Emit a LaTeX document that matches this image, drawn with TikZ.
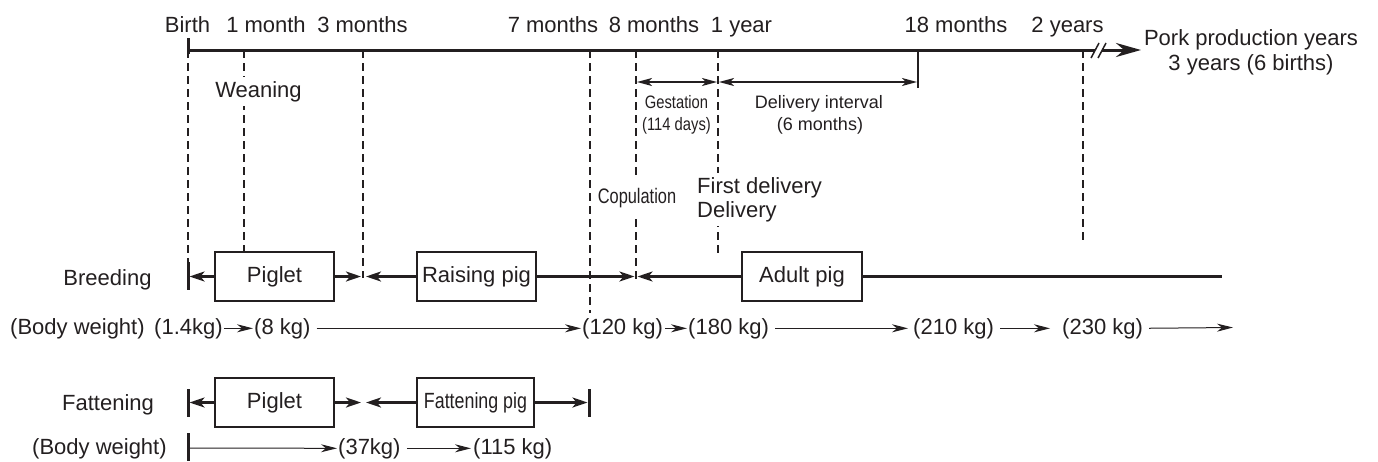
\documentclass[tikz,border=0pt]{standalone}
\usepackage{fontspec}
\usepackage{graphicx}
\setmainfont{Liberation Sans}
\usetikzlibrary{arrows.meta}
\definecolor{ink}{HTML}{231F20}
\begin{document}
\begin{tikzpicture}[x=1pt,y=-1pt,
  every node/.style={text=ink,inner sep=0pt,font=\fontsize{22}{24}\selectfont},
  tl/.style={anchor=base},
  dline/.style={draw=ink,line width=1.3pt,dash pattern=on 8pt off 5pt},
  pbox/.style={draw=ink,line width=2pt,minimum height=49pt,fill=white},
  rowln/.style={draw=ink,line width=2.5pt},
  rarr/.style={rowln,-{Stealth[length=15pt,width=10pt,inset=4pt]}},
  tickln/.style={draw=ink,line width=3pt},
  warr/.style={draw=ink,line width=1pt,-{Stealth[length=16pt,width=8pt,inset=5pt]},shorten <=2pt,shorten >=1pt},
  dimarr/.style={draw=ink,line width=1.3pt,{Stealth[length=15pt,width=8pt,inset=4pt]}-{Stealth[length=15pt,width=8pt,inset=4pt]}},
  smallf/.style={font=\fontsize{18}{20}\selectfont},
  cover/.style={fill=white,inner ysep=4pt}
]
\useasboundingbox (0,0) rectangle (1378,461);

% ---------- timeline coordinates ----------
\coordinate (tB) at (188,50);
\coordinate (t1) at (244,50);
\coordinate (t3) at (363,50);
\coordinate (t7) at (590,50);
\coordinate (t8) at (636,50);
\coordinate (ty) at (718,50);
\coordinate (t18) at (918,50);
\coordinate (t2) at (1083,50);
\coordinate (tbrA) at (1095,50);
\coordinate (tbrB) at (1102,50);
\coordinate (tend) at (1141,50);

% ---------- dashed guide lines ----------
\coordinate (dB) at (188,262);
\coordinate (d1) at (244,252);
\coordinate (d3) at (363,278);
\coordinate (d7) at (590,313);
\coordinate (d8) at (636,282);
\coordinate (dy) at (718,253);
\coordinate (d2) at (1083,242);
\coordinate (d18) at (918,88);
\draw[dline] (tB) -- (dB);
\draw[dline] (t1) -- (d1);
\draw[dline] (t3) -- (d3);
\draw[dline] (t7) -- (d7);
\draw[dline] (t8) -- (d8);
\draw[dline] (ty) -- (dy);
\draw[dline] (t2) -- (d2);
\draw[draw=ink,line width=1.5pt] (t18) -- (d18);

% ---------- main timeline ----------
\draw[tickln] (188,38) -- (188,54);
\draw[draw=ink,line width=3pt] (tB) -- (tbrA);
\draw[draw=ink,line width=3pt,-{Stealth[length=25pt,width=14pt]}] (tbrB) -- (tend);
\draw[draw=ink,line width=1.5pt] (1091,58) -- (1099,43);
\draw[draw=ink,line width=1.5pt] (1098,58) -- (1106,43);

% ---------- top labels ----------
\node[tl] (lB) at (187.5,32) {Birth};
\node[tl] (l1) at (266,32) {1 month};
\node[tl] (l3) at (362.5,32) {3 months};
\node[tl] (l7) at (553,32) {7 months};
\node[tl] (l8) at (654,32) {8 months};
\node[tl] (ly) at (741.5,32) {1 year};
\node[tl] (l18) at (956,32) {18 months};
\node[tl] (l2) at (1067.5,32) {2 years};
\node[tl] (pork1) at (1251,45) {Pork production years};
\node[tl] (pork2) at (1251,70) {3 years (6 births)};

\node[tl,cover] (wean) at (258.5,97) {Weaning};

% gestation / delivery interval
\draw[dimarr] (637,82) -- (717,82);
\draw[dimarr] (719,82) -- (917,82);
\node[tl,smallf] (gest1) at (676.5,108) {\scalebox{0.82}[1]{Gestation}};
\node[tl,smallf] (gest2) at (676.5,130) {\scalebox{0.82}[1]{(114 days)}};
\node[tl,smallf] (di1) at (819,108) {Delivery interval};
\node[tl,smallf] (di2) at (820,130) {(6 months)};

\node[tl,cover,inner ysep=10pt,font=\fontsize{21}{23}\selectfont] (cop) at (637,203) {\scalebox{0.78}[1]{Copulation}};
\node[anchor=base west,cover] (fd1) at (697,193) {First delivery};
\node[anchor=base west,cover] (fd2) at (697,217) {Delivery};

% ---------- breeding row ----------
\node[anchor=base] (breed) at (107.5,285) {Breeding};
\draw[tickln] (188,262) -- (188,290);
\node[pbox,minimum width=119pt] (pig1) at (274.5,276.5) {Piglet};
\node[pbox,minimum width=119pt] (rais) at (476.5,276.5) {Raising pig};
\node[pbox,minimum width=120pt] (adult) at (802,276.5) {Adult pig};
\coordinate (bB) at (189.5,276.5);
\coordinate (b3l) at (361,276.5);
\coordinate (b3r) at (366,276.5);
\coordinate (b8l) at (634.5,276.5);
\coordinate (b8r) at (637.5,276.5);
\coordinate (bend) at (1222,276.5);
\draw[rarr] (pig1.west) -- (bB);
\draw[rarr] (pig1.east) -- (b3l);
\draw[rarr] (rais.west) -- (b3r);
\draw[rarr] (rais.east) -- (b8l);
\draw[rarr] (adult.west) -- (b8r);
\draw[rowln] (adult.east) -- (bend);

% ---------- body weight row 1 ----------
\node[anchor=base west] (w0) at (10,334) {(Body weight)};
\node[anchor=base west] (w1) at (154,334) {(1.4kg)};
\node[anchor=base west] (w2) at (254,334) {(8 kg)};
\node[anchor=base west] (w3) at (582,334) {(120 kg)};
\node[anchor=base west] (w4) at (688,334) {(180 kg)};
\node[anchor=base west] (w5) at (913,334) {(210 kg)};
\node[anchor=base west] (w6) at (1062,334) {(230 kg)};
\coordinate (wend) at (1233,327.5);
\draw[warr,shorten <=1pt] (w1.east) -- (w2.west);
\draw[warr,shorten <=6pt] (w2.east) -- (w3.west);
\draw[warr] (w3.east) -- (w4.west);
\draw[warr,shorten <=6pt,shorten >=5pt] (w4.east) -- (w5.west);
\draw[warr,shorten <=6pt,shorten >=12pt] (w5.east) -- (w6.west);
\draw[warr,shorten <=6pt,shorten >=0pt] (w6.east) -- (wend);

% ---------- fattening row ----------
\node[anchor=base] (fatt) at (108,410) {Fattening};
\draw[tickln] (188,389) -- (188,417);
\draw[tickln] (589,389) -- (589,417);
\node[pbox,minimum width=119pt] (pig2) at (274.5,402.5) {Piglet};
\node[pbox,minimum width=117pt] (fpig) at (475.5,402.5) {\scalebox{0.81}[1]{Fattening pig}};
\coordinate (fB) at (189.5,402.5);
\coordinate (f3l) at (361,402.5);
\coordinate (f3r) at (366,402.5);
\coordinate (fE) at (587.5,402.5);
\draw[rarr] (pig2.west) -- (fB);
\draw[rarr] (pig2.east) -- (f3l);
\draw[rarr] (fpig.west) -- (f3r);
\draw[rarr] (fpig.east) -- (fE);

% ---------- body weight row 2 ----------
\node[anchor=base west] (v0) at (32,454) {(Body weight)};
\draw[tickln] (188,433) -- (188,461);
\coordinate (vB) at (188,448);
\node[anchor=base west] (v1) at (338,454) {(37kg)};
\node[anchor=base west] (v2) at (473,454) {(115 kg)};
\draw[warr,shorten <=0pt] (vB) -- (v1.west);
\draw[warr,shorten <=6pt,shorten >=2pt] (v1.east) -- (v2.west);
\end{tikzpicture}
\end{document}
